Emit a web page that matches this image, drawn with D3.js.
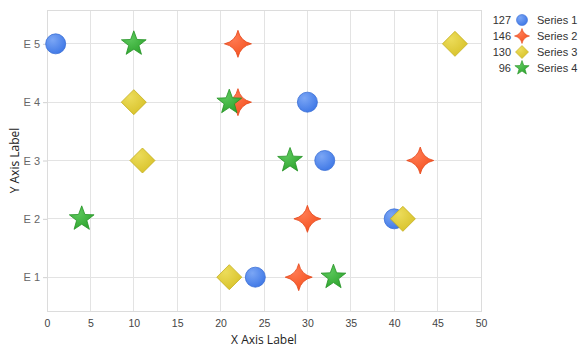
<!DOCTYPE html>
<html><head><meta charset="utf-8">
<script src="https://cdn.jsdelivr.net/npm/d3@7"></script>
<style>
html,body{margin:0;padding:0;background:#fff;}
svg{display:block;font-family:"Open Sans","DejaVu Sans",sans-serif;}
</style></head>
<body><svg id="c" width="585" height="353"></svg>
<script>
const yCategories = ["E 1","E 2","E 3","E 4","E 5"];
const xTicks = [0,5,10,15,20,25,30,35,40,45,50];
const seriesNames = ["Series 1","Series 2","Series 3","Series 4"];
const s1x = [1,30,32,40,24];   const s1y = ["E 5","E 4","E 3","E 2","E 1"];
const s2x = [22,22,43,30,29];  const s2y = ["E 5","E 4","E 3","E 2","E 1"];
const s3x = [47,10,11,41,21];  const s3y = ["E 5","E 4","E 3","E 2","E 1"];
const s4x = [10,21,28,4,33];   const s4y = ["E 5","E 4","E 3","E 2","E 1"];
const seriesColors = [["#7ba6f5","#3f78e6","#3a6fd6"],["#ff7a52","#f4511e","#e4481a"],["#ecdc5a","#d8c22a","#c4ae1c"],["#5cc85c","#2ea42e","#259325"]];

const series = [[s1x,s1y],[s2x,s2y],[s3x,s3y],[s4x,s4y]].map((d,i)=>({
  name: seriesNames[i], idx:i,
  pts: d[0].map((x,j)=>({x:x,y:d[1][j]}))
}));

const svg = d3.select("#c");
const L=47,R=481,T=10,B=311;
const x = d3.scaleLinear().domain([0,50]).range([L,R]);
const y = d3.scalePoint().domain(yCategories).range([B,T]).padding(0.58);

const defs = svg.append("defs");
seriesColors.forEach((c,i)=>{
  const g = defs.append("radialGradient").attr("id","g"+i).attr("cx","35%").attr("cy","30%").attr("r","75%");
  g.append("stop").attr("offset","0%").attr("stop-color",c[0]);
  g.append("stop").attr("offset","100%").attr("stop-color",c[1]);
});

svg.append("g").selectAll("line").data(xTicks).join("line")
  .attr("x1",d=>x(d)).attr("x2",d=>x(d)).attr("y1",T).attr("y2",B)
  .attr("stroke","#e3e3e3").attr("stroke-width",1).attr("shape-rendering","crispEdges");
svg.append("g").selectAll("line").data(yCategories).join("line")
  .attr("x1",L).attr("x2",R).attr("y1",d=>y(d)).attr("y2",d=>y(d))
  .attr("stroke","#e3e3e3").attr("stroke-width",1).attr("shape-rendering","crispEdges");
svg.append("rect").attr("x",L).attr("y",T).attr("width",R-L).attr("height",B-T)
  .attr("fill","none").attr("stroke","#dcdcdc").attr("shape-rendering","crispEdges");

const xa = svg.append("g").attr("transform",`translate(0,${B})`)
  .call(d3.axisBottom(x).tickValues(xTicks).tickSize(0).tickPadding(9));
xa.select(".domain").remove();
xa.selectAll("text").attr("fill","#444").style("font-size","10.5px");
const ya = svg.append("g").attr("transform",`translate(${L},0)`)
  .call(d3.axisLeft(y).tickSize(4).tickPadding(3));
ya.select(".domain").remove();
ya.selectAll("line").attr("stroke","#d0d0d0");
ya.selectAll("text").attr("fill","#666").style("font-family","'Liberation Sans',Arial,sans-serif").style("font-size","11px");

svg.append("text").attr("x",(L+R)/2).attr("y",344).attr("text-anchor","middle")
  .attr("fill","#222").style("font-size","12px").text("X Axis Label");
svg.append("text").attr("transform",`translate(19,${(T+B)/2}) rotate(-90)`).attr("text-anchor","middle")
  .attr("fill","#222").style("font-size","12px").text("Y Axis Label");

function starPath(n, ro, ri){
  const p=[];
  for(let k=0;k<2*n;k++){
    const a=-Math.PI/2 + k*Math.PI/n, r=k%2?ri:ro;
    p.push([r*Math.cos(a), r*Math.sin(a)]);
  }
  return "M"+p.map(q=>q.join(",")).join("L")+"Z";
}
function sparkle(ro, ri){
  let d="";
  for(let k=0;k<4;k++){
    const a=-Math.PI/2 + k*Math.PI/2, a2=a+Math.PI/2;
    const p1=[ro*Math.cos(a), ro*Math.sin(a)];
    const p2=[ro*Math.cos(a2), ro*Math.sin(a2)];
    const am=a+Math.PI/4, c=[ri*Math.cos(am), ri*Math.sin(am)];
    if(k===0) d+="M"+p1.join(",");
    d+="Q"+c.join(",")+" "+p2.join(",");
  }
  return d+"Z";
}
function markerPath(i, s){
  if(i===0) return d3.symbol(d3.symbolCircle, Math.PI*s.r*s.r)();
  if(i===1) return sparkle(s.o, s.i);
  if(i===2) return `M0,${-s.d}L${s.d},0L0,${s.d}L${-s.d},0Z`;
  return starPath(5, s.o, s.i);
}
const big = [{r:10},{o:13.5,i:3.5},{d:12.5},{o:13,i:5.4}];
const small = [{r:5.5},{o:7.5,i:2},{d:6.5},{o:7.5,i:3.1}];

series.forEach(s=>{
  svg.append("g").selectAll("path").data(s.pts).join("path")
    .attr("transform",d=>`translate(${x(d.x)},${y(d.y)})`)
    .attr("d",markerPath(s.idx,big[s.idx]))
    .attr("fill",`url(#g${s.idx})`).attr("stroke",seriesColors[s.idx][2]).attr("stroke-width",0.8);
});

const lg = svg.append("g").style("font-family","'Liberation Sans',Arial,sans-serif");
series.forEach((s,i)=>{
  const yy = 20 + i*16;
  lg.append("text").attr("x",511).attr("y",yy).attr("dy","0.35em").attr("text-anchor","end")
    .attr("fill","#333").style("font-size","11px").text(d3.sum(s.pts,d=>d.x));
  lg.append("path").attr("transform",`translate(522,${yy})`).attr("d",markerPath(i,small[i]))
    .attr("fill",`url(#g${i})`).attr("stroke",seriesColors[i][2]).attr("stroke-width",0.6);
  lg.append("text").attr("x",537).attr("y",yy).attr("dy","0.35em")
    .attr("fill","#333").style("font-size","11px").text(s.name);
});
</script></body></html>
